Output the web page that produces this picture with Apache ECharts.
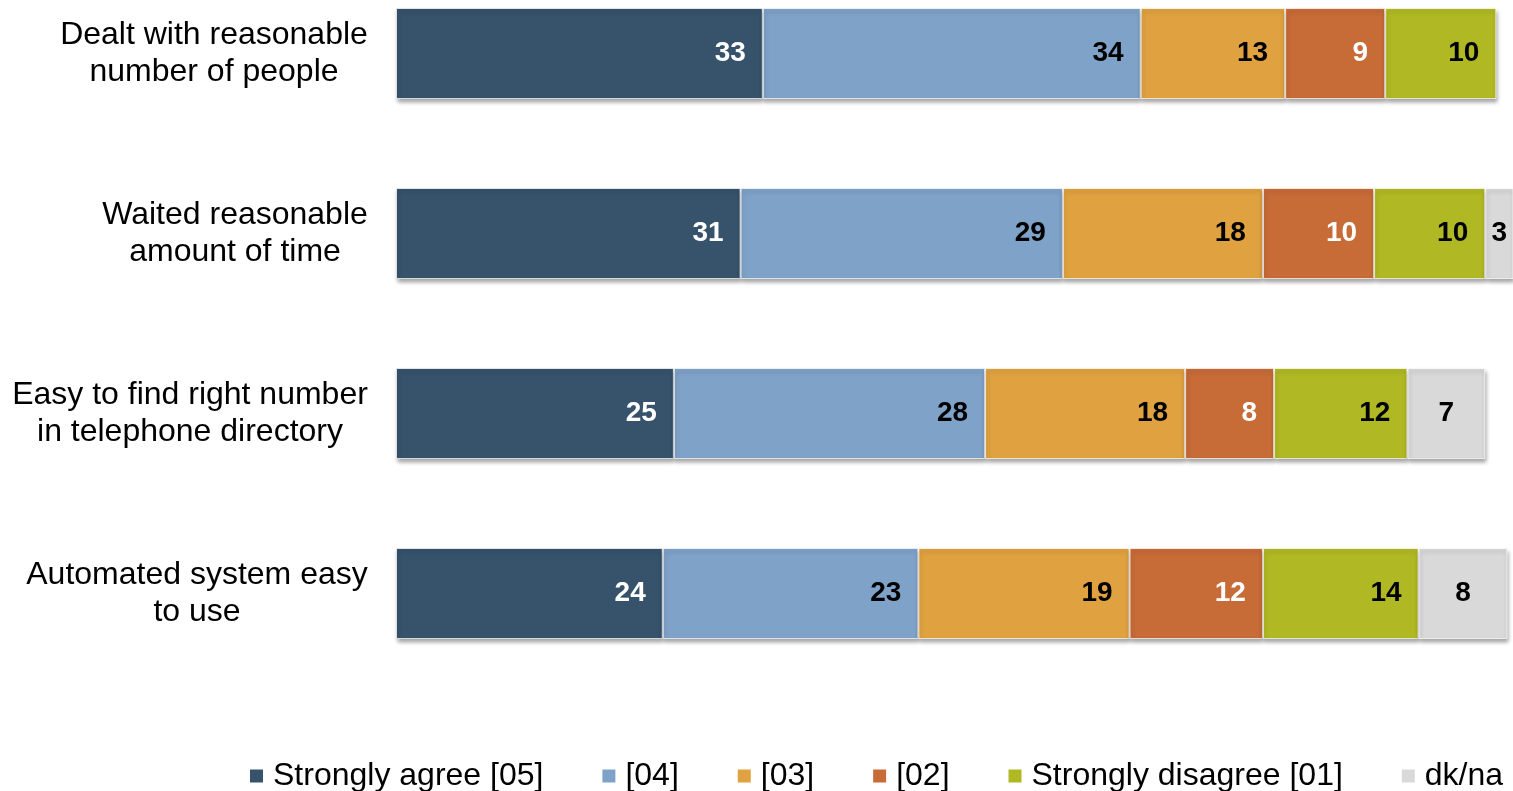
<!DOCTYPE html>
<html>
<head>
<meta charset="utf-8">
<script src="https://cdn.jsdelivr.net/npm/echarts@6/dist/echarts.min.js"></script>
<style>
html,body{margin:0;padding:0;background:#fff;overflow:hidden;width:1513px;height:791px;}
#chart{position:absolute;left:0;top:-37px;width:1513px;height:828px;}
</style>
</head>
<body>
<div id="chart"></div>
<script>
const categories = [
  "Dealt with reasonable\nnumber of people",
  "Waited reasonable\namount of time",
  "Easy to find right number\nin telephone directory",
  "Automated system easy\nto use"
];
const seriesNames = ["Strongly agree [05]", "[04]", "[03]", "[02]", "Strongly disagree [01]", "dk/na"];
const agree05 = [33, 31, 25, 24];
const v04 = [34, 29, 28, 23];
const v03 = [13, 18, 18, 19];
const v02 = [9, 10, 8, 12];
const disagree01 = [10, 10, 12, 14];
const dkna = [null, 3, 7, 8];

const colors = ["#36536b", "#7fa2c8", "#e0a240", "#c76b37", "#b0b923", "#d9d9d9"];
const labelColors = ["#ffffff", "#000000", "#000000", "#ffffff", "#000000", "#000000"];
const dataSets = [agree05, v04, v03, v02, disagree01, dkna];
const FONT = "'Liberation Sans', Arial, sans-serif";
const CAT_SIZE = 32;

// measure widest line of each category label so lines can be centred within a right-aligned block
const mctx = document.createElement('canvas').getContext('2d');
mctx.font = CAT_SIZE + "px 'Liberation Sans', Arial, sans-serif";
const rich = {};
categories.forEach((c, i) => {
  const w = Math.max(...c.split('\n').map(l => mctx.measureText(l).width));
  rich['w' + i] = {width: Math.ceil(w), align: 'center', fontFamily: FONT, fontSize: CAT_SIZE, lineHeight: 37, color: '#000'};
});

const chart = echarts.init(document.getElementById('chart'), null, {renderer: 'canvas'});
const series = seriesNames.map((name, i) => ({
  name: name,
  type: 'bar',
  stack: 'total',
  barWidth: 91,
  data: dataSets[i],
  itemStyle: {
    color: colors[i],
    borderColor: 'rgba(255,255,255,0.7)',
    borderWidth: 1,
    shadowColor: 'rgba(0,0,0,0.35)',
    shadowBlur: 4,
    shadowOffsetX: 1,
    shadowOffsetY: 3
  },
  label: {
    show: true,
    position: i === 5 ? 'inside' : 'insideRight',
    distance: 17,
    color: labelColors[i],
    fontFamily: FONT,
    fontWeight: 'bold',
    fontSize: 28
  },
  emphasis: {disabled: true},
  animation: false
}));

chart.setOption({
  animation: false,
  grid: {left: 396, top: 0.5, right: 0, height: 720, containLabel: false},
  legend: {
    left: 245,
    top: 792,
    itemWidth: 13,
    itemHeight: 13,
    itemGap: 59,
    icon: 'rect',
    data: seriesNames,
    itemStyle: {borderWidth: 0, shadowBlur: 0, shadowOffsetX: 0, shadowOffsetY: 0},
    textStyle: {fontFamily: FONT, fontSize: 32, color: '#000', padding: [0, 0, 0, 5]}
  },
  xAxis: {
    type: 'value',
    min: 0,
    max: 100.5,
    show: false
  },
  yAxis: {
    type: 'category',
    data: categories,
    inverse: true,
    axisLine: {show: false},
    axisTick: {show: false},
    axisLabel: {
      margin: 28,
      align: 'right',
      formatter: (value, idx) => value.split('\n').map(l => '{w' + idx + '|' + l + '}').join('\n'),
      rich: rich
    }
  },
  series: series
});
</script>
</body>
</html>
